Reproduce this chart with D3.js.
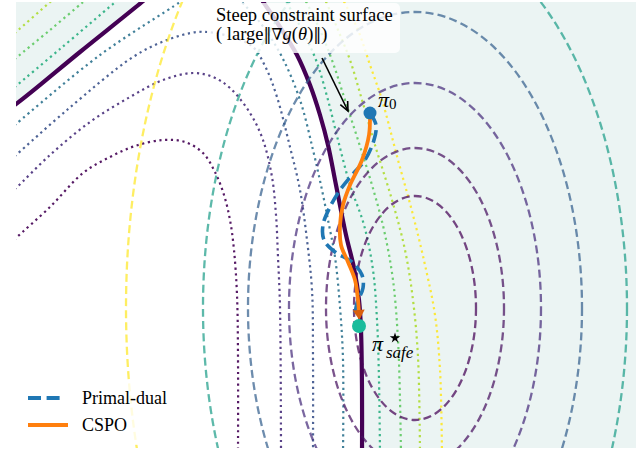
<!DOCTYPE html>
<html>
<head>
<meta charset="utf-8">
<script src="https://cdn.jsdelivr.net/npm/d3@7"></script>
<style>
  body { margin: 0; background: #fff; }
  svg { display: block; }
  text { font-family: "Liberation Serif", "Times New Roman", serif; fill: #000; }
  .sym { font-family: "DejaVu Serif", serif; }
</style>
</head>
<body>
<svg id="chart" width="644" height="450"></svg>
<script>
// objective f(theta): dashed elliptic level sets (centre + radii, theta units)
const objCenter = [0.89, -0.83]
const objRx = [0.61, 0.89, 1.26, 1.67, 2.12, 2.89]
const objRy = [1.12, 1.60, 2.25, 2.96, 3.80, 5.17]

// constraint g(theta) = 0 boundary (two visible pieces of one arch)
const gZeroLeft = [[-3.20, 1.15], [-3.10, 1.21], [-2.46, 1.73], [-1.84, 2.23], [-1.76, 2.30]]
const gZeroRight = [[-0.69, 2.33], [-0.64, 2.25], [-0.46, 1.98], [-0.29, 1.70], [-0.16, 1.40], [-0.06, 1.10],
  [0.02, 0.80], [0.10, 0.40], [0.20, -0.10], [0.28, -0.43], [0.33, -0.75], [0.35, -1.05], [0.36, -1.65], [0.36, -2.35]]

// other g levels (dotted), infeasible side
const gNeg4 = [[-3.16, -0.19], [-3.10, -0.13], [-2.76, 0.18], [-2.43, 0.52], [-2.16, 0.68], [-1.91, 0.79], [-1.63, 0.85],
  [-1.41, 0.83], [-1.23, 0.72], [-1.11, 0.53], [-1.02, 0.30], [-0.96, 0.05], [-0.92, -0.25], [-0.89, -0.70], [-0.88, -1.32], [-0.88, -2.30]]
const gNeg3 = [[-3.16, 0.32], [-3.10, 0.37], [-2.76, 0.70], [-2.36, 1.03], [-1.96, 1.28], [-1.63, 1.45], [-1.33, 1.52],
  [-1.13, 1.48], [-0.96, 1.37], [-0.76, 1.12], [-0.63, 0.85], [-0.54, 0.48], [-0.50, 0.10], [-0.48, -0.32], [-0.46, -0.82], [-0.45, -2.30]]
const gNeg2 = [[-3.16, 0.65], [-3.10, 0.70], [-2.59, 1.15], [-1.93, 1.68], [-1.59, 1.85], [-1.29, 1.93], [-1.11, 1.92],
  [-0.91, 1.87], [-0.73, 1.78], [-0.60, 1.57], [-0.49, 1.28], [-0.36, 0.78], [-0.26, 0.35], [-0.19, -0.15], [-0.14, -0.65], [-0.13, -1.32], [-0.13, -2.30]]
const gNeg1Left = [[-3.16, 0.96], [-3.10, 1.01], [-2.26, 1.70], [-1.46, 2.23], [-1.38, 2.29]]
const gNeg1Right = [[-0.91, 2.31], [-0.86, 2.25], [-0.64, 2.00], [-0.44, 1.68], [-0.26, 1.25], [-0.13, 0.75], [-0.04, 0.35],
  [0.03, 0.00], [0.09, -0.32], [0.14, -0.82], [0.17, -1.35], [0.17, -2.30]]
// feasible side
const gPos1Left = [[-3.16, 1.34], [-3.10, 1.39], [-2.66, 1.76], [-2.13, 2.21], [-2.06, 2.27]]
const gPos1Right = [[-0.46, 2.32], [-0.41, 2.25], [-0.24, 1.95], [-0.10, 1.65], [0.02, 1.25], [0.12, 0.85], [0.24, 0.40],
  [0.38, 0.00], [0.47, -0.45], [0.51, -0.95], [0.53, -1.55], [0.54, -2.30]]
const gPos2Left = [[-3.16, 1.62], [-3.10, 1.67], [-2.76, 1.95], [-2.44, 2.22], [-2.38, 2.27]]
const gPos2Right = [[-0.26, 2.33], [-0.21, 2.25], [-0.06, 1.95], [0.07, 1.62], [0.19, 1.25], [0.32, 0.85], [0.46, 0.40],
  [0.58, -0.05], [0.67, -0.55], [0.72, -1.15], [0.74, -1.75], [0.75, -2.30]]
const gPos3Left = [[-3.16, 1.88], [-3.10, 1.93], [-2.77, 2.22], [-2.71, 2.27]]
const gPos3Right = [[-0.06, 2.33], [-0.01, 2.25], [0.12, 1.95], [0.24, 1.65], [0.36, 1.25], [0.49, 0.80], [0.66, 0.25],
  [0.79, -0.25], [0.87, -0.75], [0.92, -1.32], [0.94, -2.30]]
const gPos4Right = [[0.12, 2.33], [0.17, 2.25], [0.32, 1.95], [0.44, 1.60], [0.56, 1.25], [0.72, 0.65], [0.87, 0.10],
  [0.99, -0.40], [1.09, -0.90], [1.14, -1.45], [1.16, -2.30]]

// optimisation trajectories
const cspoPath = [[0.44, 1.12], [0.43, 0.90], [0.36, 0.65], [0.24, 0.40], [0.17, 0.20], [0.14, 0.00], [0.15, -0.20],
  [0.22, -0.37], [0.29, -0.55], [0.32, -0.75], [0.33, -0.89]]
const primalDualPath = [[0.44, 1.12], [0.50, 1.00], [0.48, 0.85], [0.39, 0.65], [0.26, 0.50], [0.14, 0.35], [0.04, 0.18],
  [-0.03, 0.00], [-0.02, -0.15], [0.09, -0.27], [0.26, -0.37], [0.36, -0.50], [0.37, -0.63], [0.31, -0.78], [0.29, -0.90]]
const pi0 = [0.44, 1.12]
const piSafe = [0.33, -1.01]
const annotFrom = [-0.04, 1.67]
const annotTo = [0.22, 1.14]

const legendLabels = ["Primal-dual", "CSPO"]

const svg = d3.select("#chart")
const x = d3.scaleLinear().domain([-3.1, 3.1]).range([16, 636])
const y = d3.scaleLinear().domain([-2.23, 2.23]).range([448, 2])

const line = d3.line().x(d => x(d[0])).y(d => y(d[1])).curve(d3.curveCatmullRom.alpha(0.5))

svg.append("clipPath").attr("id", "plotclip")
  .append("rect").attr("x", 16).attr("y", 2).attr("width", 620).attr("height", 446)

const g = svg.append("g").attr("clip-path", "url(#plotclip)")

// feasible region shading, then blank out the inside of the g=0 arch
g.append("rect").attr("x", 16).attr("y", 2).attr("width", 620).attr("height", 446).attr("fill", "#ebf4f3")
let inside = line(gZeroLeft) + line(gZeroRight).replace(/^M/, "L")
  + `L${x(-3.2)},${y(-2.4)}L${x(-3.2)},${y(gZeroLeft[0][1])}Z`
g.append("path").attr("d", inside).attr("fill", "#fff")

// dotted constraint levels
const gLevels = [
  { parts: [gNeg4], color: "#440154" },
  { parts: [gNeg3], color: "#472d7b" },
  { parts: [gNeg2], color: "#3b528b" },
  { parts: [gNeg1Left, gNeg1Right], color: "#2c728e" },
  { parts: [gPos1Left, gPos1Right], color: "#28ae80" },
  { parts: [gPos2Left, gPos2Right], color: "#5ec962" },
  { parts: [gPos3Left, gPos3Right], color: "#addc30" },
  { parts: [gPos4Right], color: "#fde725" }
]
gLevels.forEach(lv => {
  lv.parts.forEach(p => {
    g.append("path").attr("d", line(p))
      .attr("fill", "none").attr("stroke", lv.color).attr("stroke-width", 2.2)
      .attr("stroke-dasharray", "2.2,3.6").attr("opacity", 0.9)
  })
})

// thick g = 0 boundary
;[gZeroLeft, gZeroRight].forEach(p => {
  g.append("path").attr("d", line(p))
    .attr("fill", "none").attr("stroke", "#440154").attr("stroke-width", 4.2)
})

// dashed objective contours
const objColors = ["#440154", "#46105f", "#472d7b", "#355f8d", "#1f9e89", "#fde725"]
g.selectAll("ellipse.obj").data(objRx).join("ellipse")
  .attr("class", "obj")
  .attr("cx", x(objCenter[0])).attr("cy", y(objCenter[1]))
  .attr("rx", d => x(objCenter[0] + d) - x(objCenter[0]))
  .attr("ry", (d, i) => y(objCenter[1]) - y(objCenter[1] + objRy[i]))
  .attr("fill", "none")
  .attr("stroke", (d, i) => objColors[i])
  .attr("stroke-opacity", 0.72)
  .attr("stroke-width", 2.3)
  .attr("stroke-dasharray", "8,4.2")

// trajectories
g.append("path").attr("d", line(primalDualPath))
  .attr("fill", "none").attr("stroke", "#1f77b4").attr("stroke-width", 3.6)
  .attr("stroke-dasharray", "13,5.6")
g.append("path").attr("d", line(cspoPath))
  .attr("fill", "none").attr("stroke", "#ff7f0e").attr("stroke-width", 3.8)

// arrow head at the end of CSPO
{
  const a = cspoPath[cspoPath.length - 2], b = cspoPath[cspoPath.length - 1]
  const ex = x(b[0]), ey = y(b[1])
  const ang = Math.atan2(ey - y(a[1]), ex - x(a[0]))
  const len = 10, hw = 6
  const tip = [ex + Math.cos(ang) * 6, ey + Math.sin(ang) * 6]
  const base = [tip[0] - Math.cos(ang) * len, tip[1] - Math.sin(ang) * len]
  const p1 = [base[0] - Math.sin(ang) * hw, base[1] + Math.cos(ang) * hw]
  const p2 = [base[0] + Math.sin(ang) * hw, base[1] - Math.cos(ang) * hw]
  g.append("path").attr("d", `M${tip}L${p1}L${p2}Z`).attr("fill", "#d95f0e")
}

// start and solution points
g.append("circle").attr("cx", x(pi0[0])).attr("cy", y(pi0[1])).attr("r", 6.5).attr("fill", "#1f77b4")
g.append("circle").attr("cx", x(piSafe[0])).attr("cy", y(piSafe[1])).attr("r", 7).attr("fill", "#1abc9c")

// point labels
const p0 = svg.append("text").attr("x", x(pi0[0]) + 8).attr("y", y(pi0[1]) - 6)
p0.append("tspan").attr("font-style", "italic").attr("font-size", 22).text("π")
p0.append("tspan").attr("font-size", 15).attr("dy", 2).text("0")

const sx0 = x(piSafe[0]), sy0 = y(piSafe[1])
const ps = svg.append("text")
ps.append("tspan").attr("x", sx0 + 13).attr("y", sy0 + 25)
  .attr("font-style", "italic").attr("font-size", 22).text("π")
ps.append("tspan").attr("x", sx0 + 27).attr("y", sy0 + 32)
  .attr("font-style", "italic").attr("font-size", 17).text("safe")
// superscript star drawn as a symbol
svg.append("path")
  .attr("d", d3.symbol(d3.symbolStar).size(34)())
  .attr("transform", `translate(${sx0 + 36},${sy0 + 12})`)
  .attr("fill", "#000")

// annotation box and arrow
svg.append("rect").attr("x", 207).attr("y", 3).attr("width", 193).attr("height", 50).attr("rx", 5)
  .attr("fill", "#fff").attr("fill-opacity", 0.82)
svg.append("text").attr("x", 216).attr("y", 21).attr("font-size", 18.5).text("Steep constraint surface")
const l2 = svg.append("text").attr("x", 216).attr("y", 40).attr("font-size", 18.5)
l2.append("tspan").text("( large")
l2.append("tspan").attr("class", "sym").attr("font-size", 16).text("‖∇")
l2.append("tspan").attr("font-style", "italic").text("g")
l2.append("tspan").text("(")
l2.append("tspan").attr("font-style", "italic").text("θ")
l2.append("tspan").text(")")
l2.append("tspan").attr("class", "sym").attr("font-size", 16).text("‖")
l2.append("tspan").text(")")

{
  const sx = x(annotFrom[0]), sy = y(annotFrom[1]), ex = x(annotTo[0]), ey = y(annotTo[1])
  const ang = Math.atan2(ey - sy, ex - sx)
  svg.append("line").attr("x1", sx).attr("y1", sy).attr("x2", ex).attr("y2", ey)
    .attr("stroke", "#000").attr("stroke-width", 1.6)
  const hl = 10, spread = 0.42
  const h1 = [ex - hl * Math.cos(ang - spread), ey - hl * Math.sin(ang - spread)]
  const h2 = [ex - hl * Math.cos(ang + spread), ey - hl * Math.sin(ang + spread)]
  svg.append("path").attr("d", `M${h1}L${ex},${ey}L${h2}`)
    .attr("fill", "none").attr("stroke", "#000").attr("stroke-width", 1.6)
}

// legend
svg.append("rect").attr("x", 19).attr("y", 383).attr("width", 160).attr("height", 62).attr("rx", 4)
  .attr("fill", "#fff").attr("fill-opacity", 0.8)
const legendStyles = [
  { color: "#1f77b4", dash: "13,5.6", x2: 63 },
  { color: "#ff7f0e", dash: null, x2: 68 }
]
legendLabels.forEach((lab, i) => {
  const ly = 398 + i * 27
  svg.append("line").attr("x1", 28).attr("x2", legendStyles[i].x2).attr("y1", ly).attr("y2", ly)
    .attr("stroke", legendStyles[i].color).attr("stroke-width", 3.8)
    .attr("stroke-dasharray", legendStyles[i].dash)
  svg.append("text").attr("x", 82).attr("y", ly + 6).attr("font-size", 18).text(lab)
})
</script>
</body>
</html>
